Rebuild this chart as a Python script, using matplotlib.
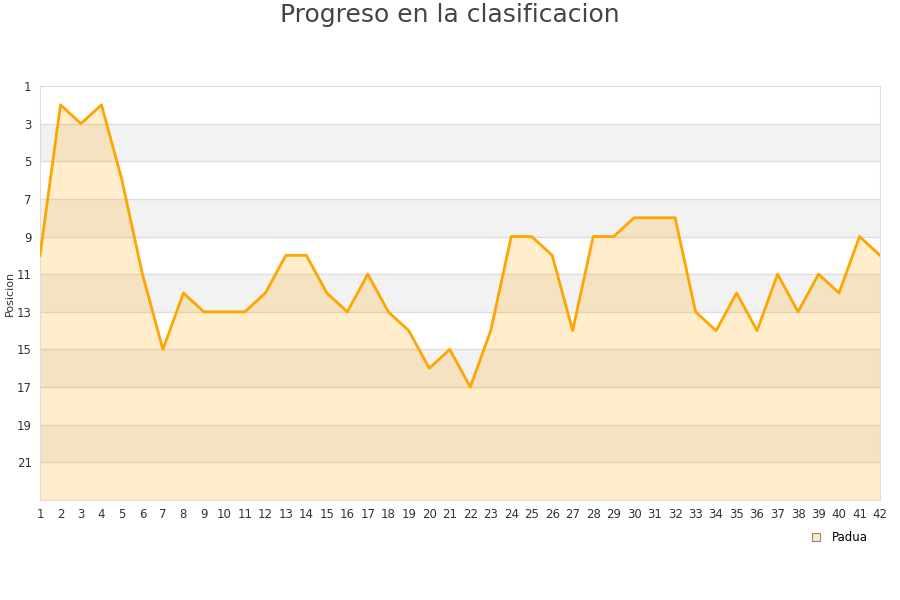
import matplotlib
matplotlib.use('Agg')
import matplotlib.pyplot as plt
from matplotlib.lines import Line2D

jornadas = list(range(1, 43))
posicion = [10, 2, 3, 2, 6, 11, 15, 12, 13, 13, 13, 12, 10, 10, 12, 13, 11, 13, 14, 16,
            15, 17, 14, 9, 9, 10, 14, 9, 9, 8, 8, 8, 13, 14, 12, 14, 11, 13, 11, 12,
            9, 10]
equipo = 'Padua'
y_ticks = list(range(1, 22, 2))

fig = plt.figure(figsize=(9, 6), dpi=100)
ax = fig.add_axes([40 / 900, 100 / 600, 840 / 900, 414 / 600])

# franjas alternas
for i, y0 in enumerate(range(1, 23, 2)):
    if i % 2 == 1:
        ax.axhspan(y0, y0 + 2, color='#f2f2f2', lw=0, zorder=0)
for y in y_ticks[1:]:
    ax.axhline(y, color='#dddddd', lw=1, zorder=1)

ax.fill_between(jornadas, posicion, 23, color='#ffa500', alpha=0.2, lw=0, zorder=2)
ax.plot(jornadas, posicion, color='#ffa500', lw=2, zorder=3)

ax.set_xlim(1, 42)
ax.set_ylim(23, 1)
ax.set_xticks(jornadas)
ax.set_yticks(y_ticks)
ax.tick_params(length=0, labelsize=8.5, colors='#333333', pad=6)
for s in ax.spines.values():
    s.set_color('#dddddd')
ax.set_ylabel('Posicion', fontsize=8, color='#333333', labelpad=1)

fig.text(0.5, 0.975, 'Progreso en la clasificacion', fontsize=18, color='#444444',
         ha='center', va='center')

handle = Line2D([], [], marker='s', linestyle='none', markersize=6,
                markerfacecolor='#ffe8c0', markeredgecolor='#888888', markeredgewidth=0.8)
fig.legend(handles=[handle], labels=[equipo], loc='center', bbox_to_anchor=(0.929, 0.104),
           frameon=False, fontsize=8.5, handletextpad=0.3)

plt.savefig('out.png')
